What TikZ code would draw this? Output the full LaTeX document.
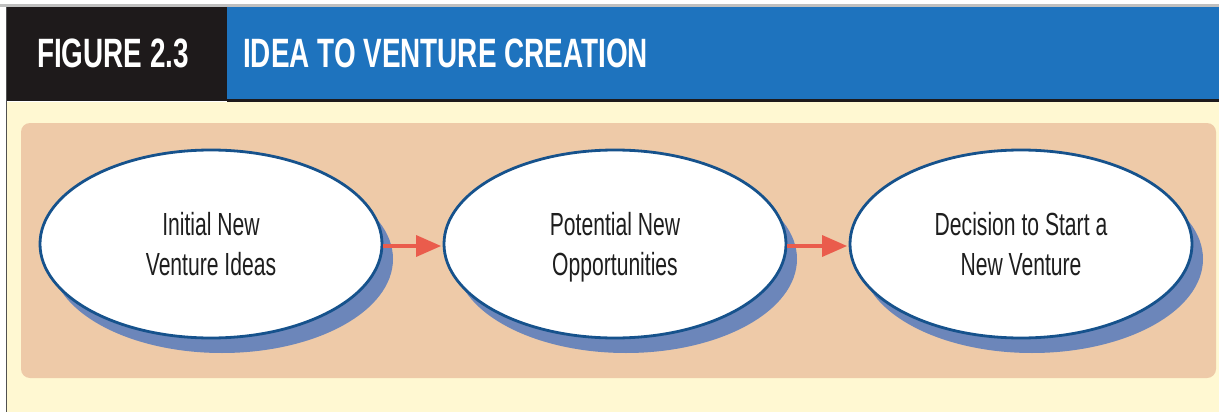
\documentclass[tikz,border=0pt]{standalone}
\usepackage{fontspec}
\setmainfont{Liberation Sans}
\newfontfamily\condfont[FakeStretch=0.66]{Liberation Sans}
\newfontfamily\condbold[FakeStretch=0.68]{Liberation Sans Bold}
\usetikzlibrary{shapes.geometric,arrows.meta}
\definecolor{hdrblue}{RGB}{30,115,190}
\definecolor{hdrblack}{RGB}{30,26,27}
\definecolor{cream}{RGB}{255,248,210}
\definecolor{tan}{RGB}{238,202,168}
\definecolor{ringblue}{RGB}{22,82,140}
\definecolor{shadowblue}{RGB}{108,134,186}
\definecolor{arrred}{RGB}{234,92,76}
\definecolor{txtgray}{RGB}{30,30,30}
\definecolor{edgegray}{RGB}{80,80,80}
\newcommand{\topstrut}{\rule{0pt}{34pt}}
\tikzset{
  oval/.style={ellipse, minimum width=342pt, minimum height=188pt, inner sep=0pt,
    draw=ringblue, line width=2.8pt, fill=white, text=txtgray, align=center,
    font=\condfont\fontsize{32}{40}\selectfont},
  ovalshadow/.style={ellipse, minimum width=342pt, minimum height=188pt, inner sep=0pt,
    fill=shadowblue, draw=none},
  flowarrow/.style={draw=arrred, line width=3.5pt,
    -{Triangle[length=25pt,width=21pt]}},
  hdrtext/.style={text=white, inner sep=0pt, anchor=base west,
    font=\condbold\fontsize{41}{41}\selectfont}
}
\begin{document}
\begin{tikzpicture}[x=1pt,y=-1pt]
\useasboundingbox (0,0) rectangle (1219,412);
\fill[white] (0,0) rectangle (1219,412);
\fill[black!25] (0,4) rectangle (1219,7);
% header
\fill[hdrblack] (6,7) rectangle (227,101);
\fill[hdrblue] (227,7) rectangle (1219,100);
\fill[hdrblack] (227,99) rectangle (1219,102);
% cream body
\fill[cream] (7,102) rectangle (1219,412);
\draw[edgegray, line width=1.5pt] (6.5,7) -- (6.5,412);
% tan panel
\fill[tan, rounded corners=9pt] (21,123) rectangle (1216,378);
% header text
\node[hdrtext] (fig) at (37,67) {FIGURE 2.3};
\node[hdrtext] (title) at (243,67) {IDEA TO VENTURE CREATION};
% shadows
\node[ovalshadow] (s1) at (222,259) {};
\node[ovalshadow] (s2) at (626,259) {};
\node[ovalshadow] (s3) at (1032,259) {};
% ovals
\node[oval] (e1) at (211,244) {\topstrut Initial New\\Venture Ideas\strut};
\node[oval] (e2) at (615,244) {\topstrut Potential New\\Opportunities\strut};
\node[oval] (e3) at (1021,244) {\topstrut Decision to Start a\\New Venture\strut};
% arrows
\draw[flowarrow, shorten >=1.5pt] ([yshift=-2pt]e1.east) -- ([yshift=-2pt]e2.west);
\draw[flowarrow, shorten >=1.5pt] ([yshift=-2pt]e2.east) -- ([yshift=-2pt]e3.west);
\end{tikzpicture}
\end{document}
